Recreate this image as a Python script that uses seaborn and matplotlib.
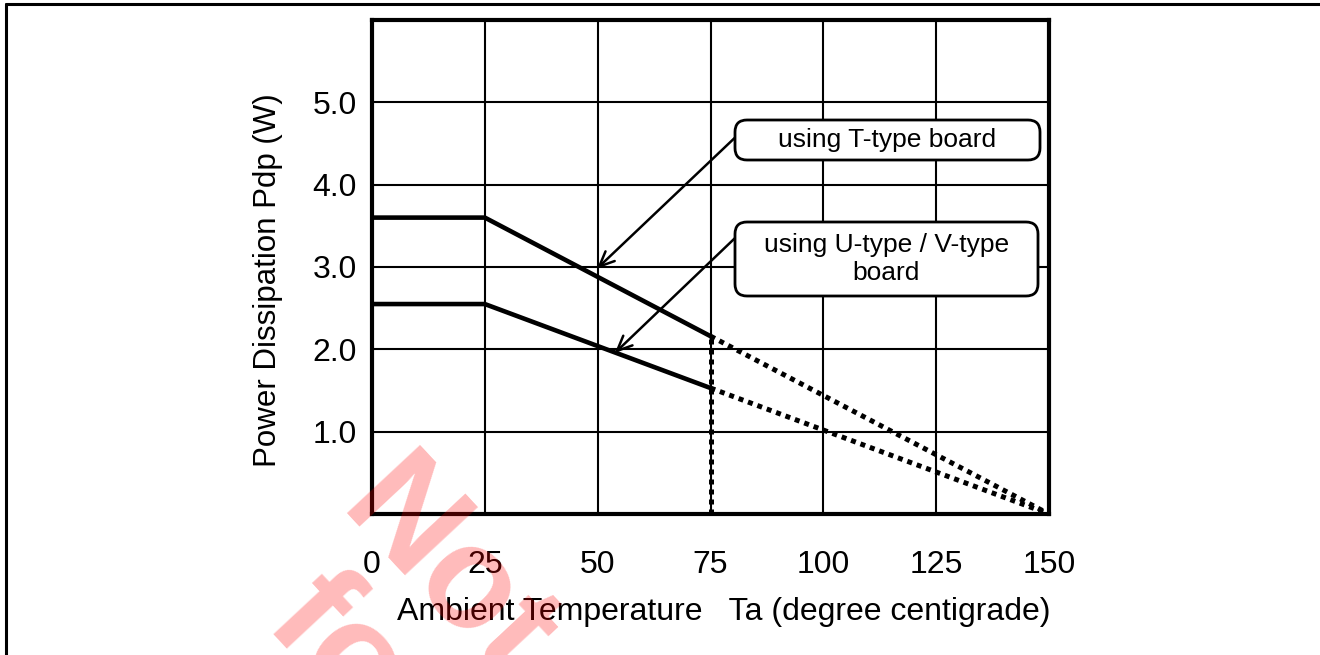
import seaborn as sns
import pandas as pd
import matplotlib.pyplot as plt
from matplotlib.patches import FancyBboxPatch
from matplotlib.lines import Line2D
from matplotlib.transforms import IdentityTransform

# derating curves
temp_solid = [0, 25, 75]
temp_dotted = [75, 150]
t_board_solid = [3.6, 3.6, 2.16]
t_board_dotted = [2.16, 0.0]
u_board_solid = [2.55, 2.55, 1.53]
u_board_dotted = [1.53, 0.0]

x_ticks = [0, 25, 50, 75, 100, 125, 150]
y_ticks = [1.0, 2.0, 3.0, 4.0, 5.0]

sns.set_theme(style="white")
plt.rcParams['font.family'] = ['Liberation Sans', 'DejaVu Sans']

W, H = 1320, 655
fig = plt.figure(figsize=(W / 100, H / 100), dpi=100)
ax = fig.add_axes([372 / W, 1 - 514 / H, (1049 - 372) / W, (514 - 20) / H])

solid = pd.DataFrame({"Ta": temp_solid * 2,
                      "Pd": t_board_solid + u_board_solid,
                      "board": ["T"] * 3 + ["U"] * 3})
dotted = pd.DataFrame({"Ta": temp_dotted * 2,
                       "Pd": t_board_dotted + u_board_dotted,
                       "board": ["T"] * 2 + ["U"] * 2})

for b in ["T", "U"]:
    sns.lineplot(data=solid[solid.board == b], x="Ta", y="Pd", ax=ax,
                 color="black", linewidth=3.3, zorder=4)
    sns.lineplot(data=dotted[dotted.board == b], x="Ta", y="Pd", ax=ax,
                 color="black", linewidth=3.6, linestyle=(0, (1, 1)), zorder=4)
ax.vlines(temp_dotted[0], 0, t_board_dotted[0], color="black", linewidth=3.6,
          linestyles=[(0, (1, 1))], zorder=4)

ax.set_xlim(0, 150)
ax.set_ylim(0, 6)
ax.set_xticks(x_ticks)
ax.set_xticklabels([str(v) for v in x_ticks])
ax.set_yticks(y_ticks)
ax.set_yticklabels([f"{v:.1f}" for v in y_ticks])
ax.tick_params(axis="x", length=0, pad=26, labelsize=23, colors="black")
ax.tick_params(axis="y", length=0, pad=11, labelsize=23, colors="black")
ax.grid(True, color="black", linewidth=1.5)
for s in ax.spines.values():
    s.set_visible(True)
    s.set_color("black")
    s.set_linewidth(3)
ax.set_xlabel("")
ax.set_ylabel("")

fig.text(724 / W, 1 - 612 / H, "Ambient Temperature   Ta (degree centigrade)",
         ha="center", va="center", fontsize=23, color="black")
fig.text(268 / W, 1 - 280 / H, "Power Dissipation Pdp (W)", rotation=90,
         ha="center", va="center", fontsize=22.5, color="black")

# callout boxes
boxes = [((735, 120, 1040, 160), "using T-type board", (80.4, 4.57), (49.85, 2.98)),
         ((735, 222, 1038, 296), "using U-type / V-type\nboard", (80.4, 3.35), (53.8, 1.955))]
for (x0, y0, x1, y1), label, tail, head in boxes:
    patch = FancyBboxPatch((x0, H - y1), x1 - x0, y1 - y0,
                           boxstyle="round,pad=0,rounding_size=12",
                           transform=IdentityTransform(), facecolor="white",
                           edgecolor="black", linewidth=2, zorder=6)
    fig.add_artist(patch)
    fig.text((x0 + x1) / 2 / W, 1 - (y0 + y1) / 2 / H, label, ha="center",
             va="center", fontsize=19, color="black", linespacing=1.2, zorder=7)
    ax.annotate("", xy=head, xytext=tail,
                arrowprops=dict(arrowstyle="->,head_length=0.9,head_width=0.4",
                                color="black", lw=1.8, shrinkA=0, shrinkB=0),
                zorder=5)

# outer frame
fig.add_artist(Line2D([6 / W, 1], [1 - 4 / H] * 2, color="black", linewidth=2.2,
                      transform=fig.transFigure))
fig.add_artist(Line2D([6 / W] * 2, [0, 1 - 4 / H], color="black", linewidth=2.2,
                      transform=fig.transFigure))

# watermark
wm = dict(fontsize=104, fontweight="bold", color="red", alpha=0.27, rotation=-47,
          rotation_mode="anchor", ha="left", va="baseline", zorder=20)
fig.text(336 / W, 1 - 512 / H, "Not", **wm)
fig.text(262 / W, 1 - 625 / H, "for", **wm)

fig.savefig("out.png", dpi=100)
